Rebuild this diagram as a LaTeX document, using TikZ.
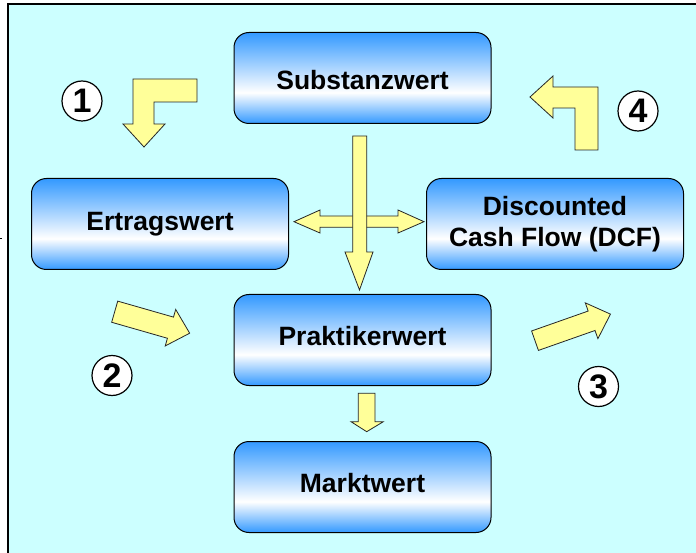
\documentclass[tikz,border=0pt]{standalone}
\usepackage{fontspec}
\setmainfont{Liberation Sans}
\definecolor{bg}{RGB}{204,255,255}
\definecolor{bblue}{RGB}{51,153,255}
\definecolor{ayel}{RGB}{255,255,153}
\pgfdeclareverticalshading{boxshade}{100bp}{color(0bp)=(bblue); color(25bp)=(bblue); color(42bp)=(white); color(75bp)=(bblue); color(100bp)=(bblue)}
\begin{document}
\begin{tikzpicture}[x=1pt,y=-1pt,
  box/.style={draw=black, line width=1pt, rounded corners=15pt, shading=boxshade,
    minimum width=257pt, minimum height=91pt, inner sep=0pt, align=center,
    font=\bfseries\fontsize{26.5}{31}\selectfont},
  blockarrow/.style={fill=ayel, draw=black!85, line width=0.8pt, line join=miter},
  num/.style={circle, draw=black, line width=1.2pt, fill=white, minimum size=40pt,
    inner sep=0pt, font=\bfseries\fontsize{34}{34}\selectfont}
]
\useasboundingbox (0,0) rectangle (696,553);
\fill[bg] (8,4) rectangle (696,553);
\draw[line width=2pt] (8,553) -- (8,4) -- (696,4);
\draw[line width=1pt] (0,239) -- (2,239);

% boxes
\node[box, text height=23pt, text depth=0pt] (subst) at (362.5,78) {Substanzwert};
\node[box] (ertrag) at (160,224) {Ertragswert};
\node[box] (dcf) at (555,224) {Discounted\\Cash Flow (DCF)};
\node[box, text height=19pt, text depth=8pt] (prakt) at (362.5,340) {Praktikerwert};
\node[box, text height=19pt, text depth=8pt] (markt) at (362.5,487) {Marktwert};

% bent arrows 1 and 4
\draw[blockarrow] (133,79) -- (197,79) -- (197,102) -- (154,102) -- (154,124) -- (165,124)
  -- (144,147) -- (123,124) -- (133,124) -- cycle;
\draw[blockarrow] (598,87) -- (598,150) -- (575,150) -- (575,108) -- (553,108) -- (553,118)
  -- (530,97) -- (553,76) -- (553,87) -- cycle;

% cross arrows
\draw[blockarrow] (294,221.7) -- (320,210) -- (320,216) -- (398,216) -- (398,210) -- (424,221.7)
  -- (398,233) -- (398,227.3) -- (320,227.3) -- (320,233) -- cycle;
\draw[blockarrow] (352.7,136) -- (366.7,136) -- (366.7,252) -- (373,252) -- (359.5,290)
  -- (345,252) -- (352.7,252) -- cycle;

% Praktikerwert -> Marktwert
\draw[blockarrow] (358.3,393.3) -- (375,393.3) -- (375,421.7) -- (383.3,421.7) -- (366.7,431.7)
  -- (351,421.7) -- (358.3,421.7) -- cycle;

% slanted arrows 2 and 3
\begin{scope}[shift={(114.7,311.7)}, rotate=-16]
\draw[blockarrow] (0,-11) -- (58,-11) -- (58,-19) -- (78,0) -- (58,19) -- (58,11) -- (0,11) -- cycle;
\end{scope}
\begin{scope}[shift={(535,340.7)}, rotate=19.4]
\draw[blockarrow] (0,-10.3) -- (60,-10.3) -- (60,-19) -- (80,0) -- (60,19) -- (60,10.3) -- (0,10.3) -- cycle;
\end{scope}

% numbers
\node[num] (n1) at (82,101) {1};
\node[num] (n2) at (112,375.5) {2};
\node[num] (n3) at (598.5,386.5) {3};
\node[num] (n4) at (638,111) {4};
\end{tikzpicture}
\end{document}
